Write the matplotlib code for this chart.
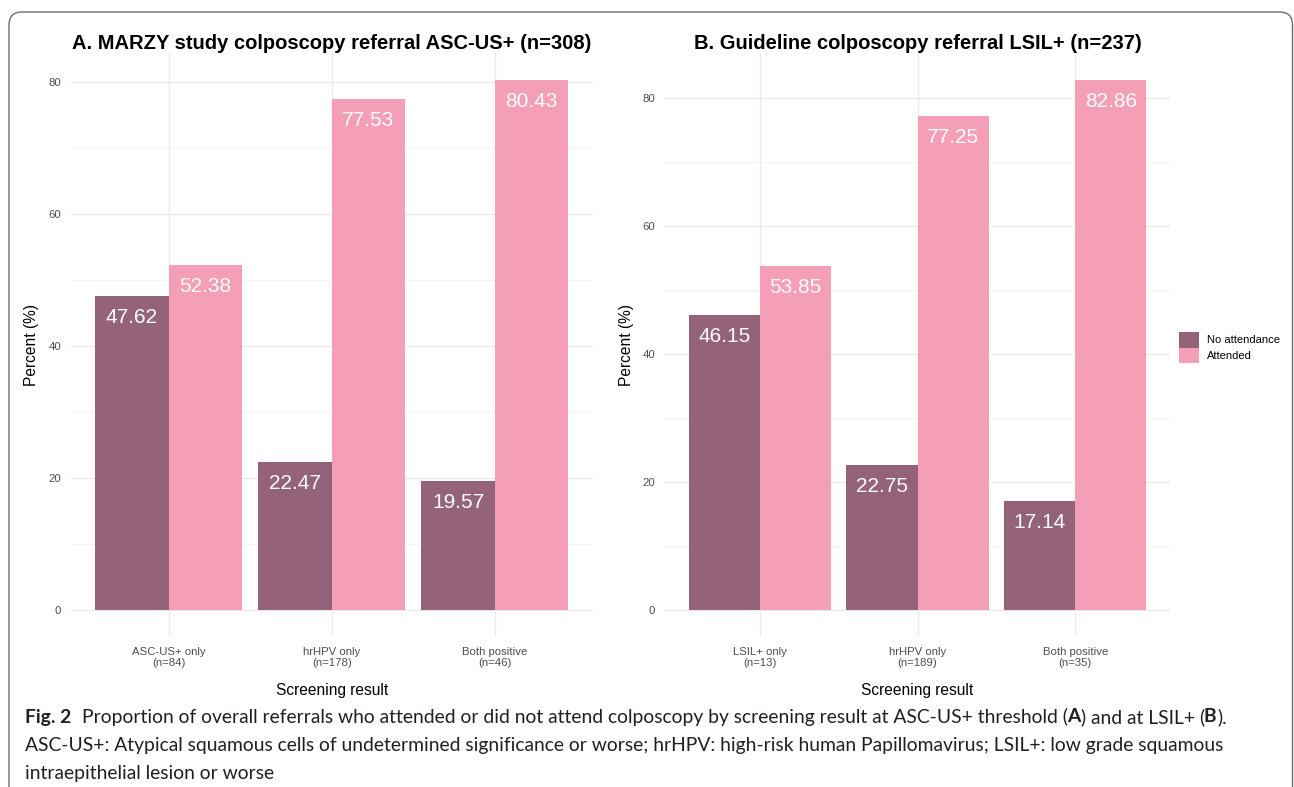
import numpy as np
import matplotlib
matplotlib.use('Agg')
import matplotlib.pyplot as plt
from matplotlib.patches import Patch, FancyBboxPatch

plt.rcParams['font.family'] = ['Liberation Sans', 'DejaVu Sans']

# attendance percentages per screening result
labels_a = ['ASC-US+ only\n(n=84)', 'hrHPV only\n(n=178)', 'Both positive\n(n=46)']
no_att_a = [47.62, 22.47, 19.57]
att_a = [52.38, 77.53, 80.43]
title_a = 'A. MARZY study colposcopy referral ASC-US+ (n=308)'

labels_b = ['LSIL+ only\n(n=13)', 'hrHPV only\n(n=189)', 'Both positive\n(n=35)']
no_att_b = [46.15, 22.75, 17.14]
att_b = [53.85, 77.25, 82.86]
title_b = 'B. Guideline colposcopy referral LSIL+ (n=237)'

series_names = ['No attendance', 'Attended']
DARK = '#94637A'
PINK = '#F49EB8'

W, H = 1294, 787
fig = plt.figure(figsize=(W / 100, H / 100), dpi=100)


def box(x0, y0, x1, y1):
    # pixel box (top-left origin) -> figure fraction rect
    return [x0 / W, 1 - y1 / H, (x1 - x0) / W, (y1 - y0) / H]


def draw_panel(ax, labels, no_att, att, title):
    x = np.arange(len(labels))
    ax.bar(x - 0.225, no_att, 0.45, color=DARK, zorder=2)
    ax.bar(x + 0.225, att, 0.45, color=PINK, zorder=2)
    for xs, vals in ((x - 0.225, no_att), (x + 0.225, att)):
        for xi, v in zip(xs, vals):
            ax.annotate(f'{v:.2f}', (xi, v), xytext=(0, -15.5),
                        textcoords='offset points', ha='center', va='center',
                        color='white', fontsize=15)
    top = max(max(no_att), max(att))
    ax.set_ylim(-0.05 * top, 1.05 * top)
    ax.set_xlim(-0.6, len(labels) - 0.4)
    ax.set_xticks(x)
    ax.set_xticklabels(labels, linespacing=1.1)
    ax.set_yticks([0, 20, 40, 60, 80])
    ax.set_yticks([10, 30, 50, 70], minor=True)
    ax.grid(which='major', color='#EBEBEB', lw=1.0)
    ax.grid(which='minor', axis='y', color='#F3F3F3', lw=0.6)
    ax.set_axisbelow(True)
    ax.tick_params(which='both', length=0, labelsize=8.2,
                   labelcolor='#4D4D4D', pad=7)
    for s in ax.spines.values():
        s.set_visible(False)
    ax.set_title(title, fontsize=14.5, fontweight='bold', pad=3)


ax_a = fig.add_axes(box(70.7, 53, 592.7, 637))
ax_b = fig.add_axes(box(665, 53.5, 1170, 637))
draw_panel(ax_a, labels_a, no_att_a, att_a, title_a)
draw_panel(ax_b, labels_b, no_att_b, att_b, title_b)

# axis titles
for xc, xl in ((331.7, 31.5), (917.5, 626)):
    fig.text(xc / W, 1 - 691 / H, 'Screening result', fontsize=11.2,
             ha='center', va='center')
    fig.text(xl / W, 1 - 345 / H, 'Percent (%)', fontsize=11.2,
             rotation=90, ha='center', va='center')

# legend
handles = [Patch(facecolor=DARK, edgecolor='none', label=series_names[0]),
           Patch(facecolor=PINK, edgecolor='none', label=series_names[1])]
fig.legend(handles=handles, loc='center left',
           bbox_to_anchor=(1179 / W, 1 - 347.5 / H), frameon=False,
           fontsize=8, handlelength=1.8, handleheight=1.8, labelspacing=0,
           handletextpad=0.7, borderpad=0, borderaxespad=0)

# outer frame, open at the bottom
frame = FancyBboxPatch((0.09, -0.5), 12.835, 8.25,
                       boxstyle='round,pad=0,rounding_size=0.13',
                       transform=fig.dpi_scale_trans, fc='none',
                       ec='#6E6E6E', lw=1.0, clip_on=False)
fig.add_artist(frame)

# caption, drawn run by run so bold pieces sit inline
renderer = fig.canvas.get_renderer()
CAP_SIZE = 13.85
CAP_COLOR = '#231F20'


def caption_line(x, y, runs):
    for text, weight, gap in runs:
        t = fig.text(x / W, 1 - y / H, text, fontsize=CAP_SIZE,
                     fontweight=weight, family=['Lato', 'DejaVu Sans'],
                     color=CAP_COLOR, ha='left', va='center')
        x = t.get_window_extent(renderer).x1 + gap


caption_line(25, 717, [
    ('Fig. 2', 'bold', 11),
    ('Proportion of overall referrals who attended or did not attend '
     'colposcopy by screening result at ASC-US+ threshold (', 'normal', -1.5),
    ('A', 'bold', 1),
    (') and at LSIL+ (', 'normal', -1.5),
    ('B', 'bold', 1),
    (').', 'normal', 0),
])
caption_line(25, 745, [
    ('ASC-US+: Atypical squamous cells of undetermined significance or '
     'worse; hrHPV: high-risk human Papillomavirus; LSIL+: low grade '
     'squamous', 'normal', 0),
])
caption_line(25, 773, [('intraepithelial lesion or worse', 'normal', 0)])

fig.savefig('out.png', dpi=100)
